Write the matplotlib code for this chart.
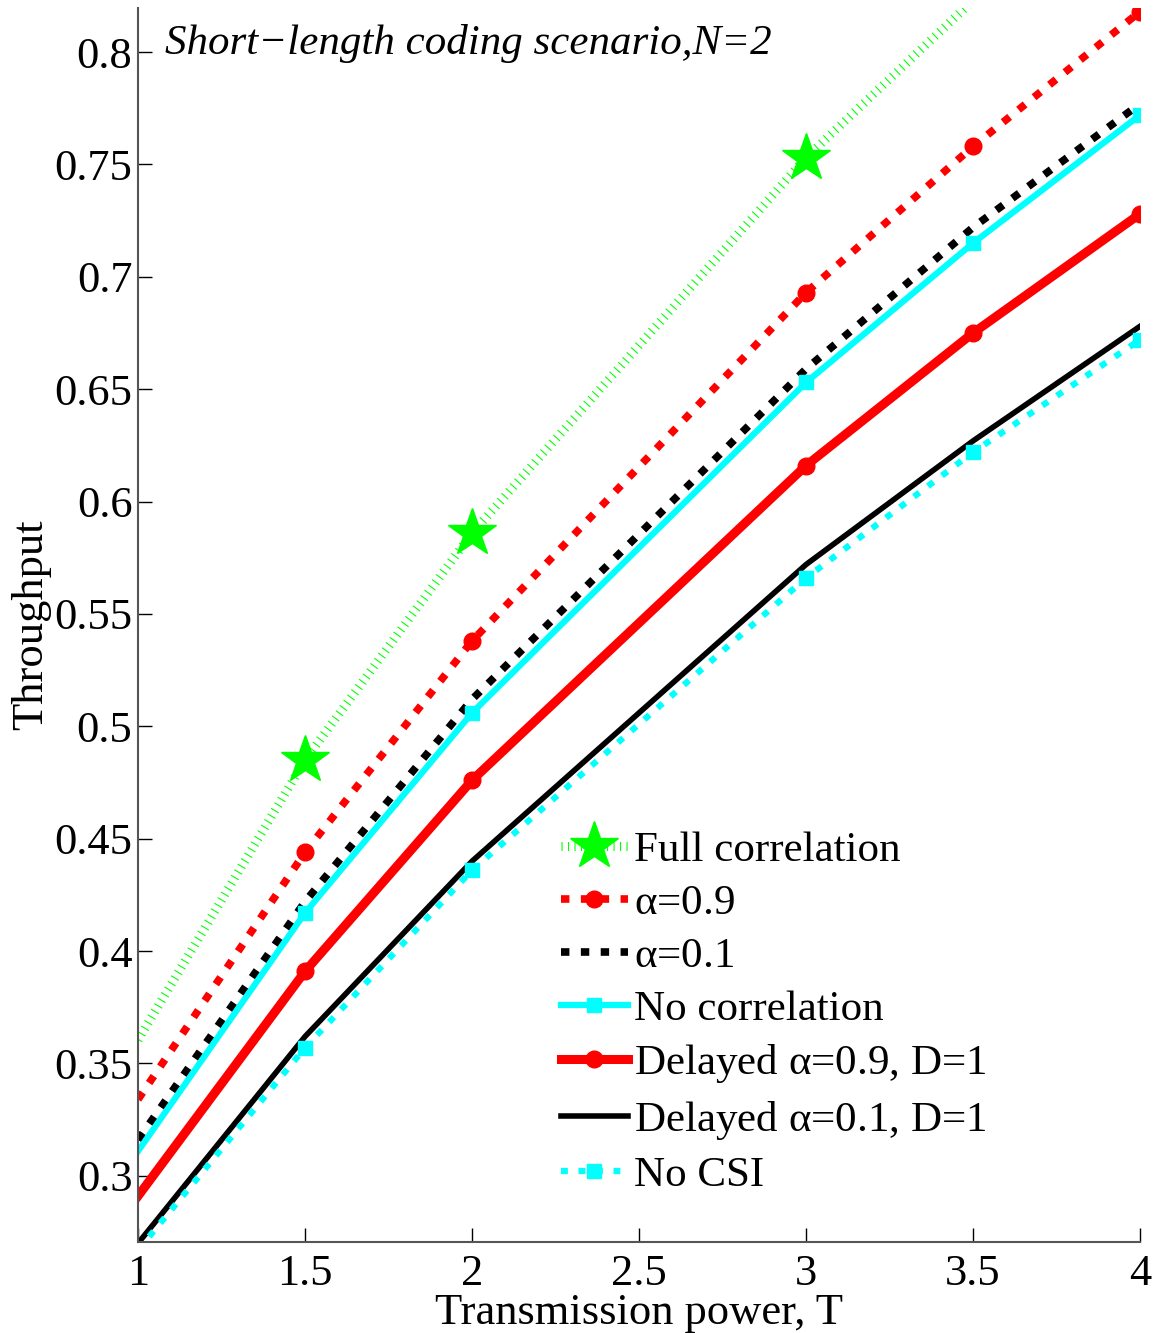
import numpy as np
import matplotlib
matplotlib.use('Agg')
import matplotlib.pyplot as plt
from matplotlib.ticker import FormatStrFormatter

# transmission power values
T = [1, 1.5, 2, 3, 3.5, 4]

# throughput curves
full_corr = [0.3605, 0.485, 0.586, 0.753, 0.823, 0.880]
alpha09 = [0.334, 0.444, 0.538, 0.693, 0.758, 0.818]
alpha01 = [0.316, 0.422, 0.512, 0.659, 0.722, 0.777]
no_corr = [0.311, 0.417, 0.506, 0.653, 0.715, 0.772]
delayed09 = [0.291, 0.391, 0.476, 0.616, 0.675, 0.728]
delayed01 = [0.270, 0.362, 0.440, 0.572, 0.627, 0.678]
no_csi = [0.267, 0.357, 0.436, 0.566, 0.622, 0.672]

labels = ['Full correlation', r'$\mathregular{\alpha}$=0.9', r'$\mathregular{\alpha}$=0.1',
          'No correlation', r'Delayed $\mathregular{\alpha}$=0.9, D=1',
          r'Delayed $\mathregular{\alpha}$=0.1, D=1', 'No CSI']

plt.rcParams['font.family'] = ['Liberation Serif', 'DejaVu Serif']
plt.rcParams['mathtext.fontset'] = 'custom'
plt.rcParams['mathtext.rm'] = 'Liberation Serif'

fs = 32
mk = [1, 2, 3, 4, 5]
dots = (0, (1.1, 1.5))

fig = plt.figure(figsize=(11.56, 13.33), dpi=100)
ax = fig.add_axes([0.1194, 0.0683, 0.8668, 0.9257])

# full correlation: stars only at 1.5, 2, 3
ax.plot(T, full_corr, color=(0, 1, 0), lw=6.5, ls=(0, (0.12, 0.6)),
        dash_capstyle='butt', marker='*', markersize=36, markevery=[1, 2, 3],
        markeredgecolor=(0, 1, 0), label=labels[0], zorder=2)
ax.plot(T, alpha09, color='red', lw=5.5, ls=dots, dash_capstyle='butt',
        marker='o', markersize=12, markevery=mk, label=labels[1])
ax.plot(T, alpha01, color='black', lw=5.5, ls=dots, dash_capstyle='butt',
        label=labels[2])
ax.plot(T, no_corr, color='cyan', lw=4.5, marker='s', markersize=10.5,
        markevery=mk, label=labels[3])
ax.plot(T, delayed09, color='red', lw=6.5, marker='o', markersize=12,
        markevery=mk, label=labels[4])
ax.plot(T, delayed01, color='black', lw=4, label=labels[5])
ax.plot(T, no_csi, color='cyan', lw=4.5, ls=(0, (1.1, 1.7)), dash_capstyle='butt',
        marker='s', markersize=10.5, markevery=mk, label=labels[6])

ax.set_xlim(1, 4)
ax.set_ylim(0.2706, 0.8196)
ax.set_xticks([1, 1.5, 2, 2.5, 3, 3.5, 4])
ax.set_yticks(np.arange(0.3, 0.801, 0.05))
ax.xaxis.set_major_formatter(FormatStrFormatter('%g'))
ax.yaxis.set_major_formatter(FormatStrFormatter('%g'))
ax.tick_params(direction='in', length=10, width=1, labelsize=fs, colors='black')
ax.tick_params(axis='x', pad=9)
ax.tick_params(axis='y', pad=4)
ax.spines['top'].set_visible(False)
ax.spines['right'].set_visible(False)
for s in ['left', 'bottom']:
    ax.spines[s].set_color('#555555')
    ax.spines[s].set_linewidth(1.5)

ax.set_xlabel('Transmission power, T', fontsize=fs, labelpad=-1)
ax.set_ylabel('Throughput', fontsize=fs, labelpad=2)

ax.text(0.027, 0.987, 'Short\u2212length coding scenario,N=2', transform=ax.transAxes,
        fontsize=31, style='italic', va='top', ha='left')

leg = ax.legend(loc='lower left', bbox_to_anchor=(0.405, 0.024), frameon=False,
                fontsize=31, handlelength=1.55, handletextpad=0.15, labelspacing=0.32,
                numpoints=1, borderaxespad=0)

plt.savefig('out.png', dpi=100)
